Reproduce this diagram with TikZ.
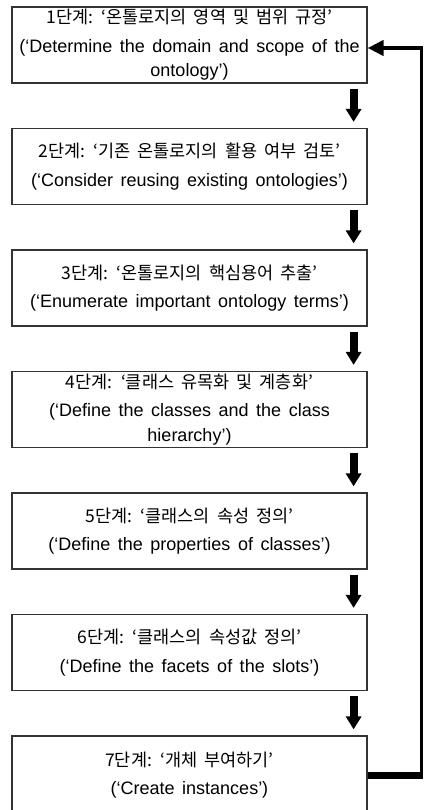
\documentclass[tikz,border=0pt]{standalone}
\usepackage{fontspec}
\setmainfont{Liberation Sans}[WordSpace=1.5]
\newfontfamily\kr{Noto Sans CJK KR}[WordSpace=1.8]
\usetikzlibrary{positioning}
\usetikzlibrary{arrows.meta}

\begin{document}
\begin{tikzpicture}[x=1pt, y=-1pt,
stagenode/.style={rectangle, draw=black!80, line width=1.2pt, minimum width=355pt, minimum height=76pt, align=center, inner sep=1pt, font=\fontsize{18}{24.5}\selectfont},
downarrow/.style={line width=8pt, -{Triangle[width=15pt,length=13pt]}, shorten <=5pt, shorten >=6pt},
node distance=44.3pt
]
\useasboundingbox (0,0) rectangle (424,810);
%Nodes
\node[stagenode]        (stage1)  at (189.5,45)        {{\kr\fontsize{17.5}{24.5}\selectfont 1단계: ‘온톨로지의 영역 및 범위 규정’}\\[4pt](‘Determine the domain and scope of the\\ontology’)};
\node[stagenode]        (stage2)  [below=of stage1]    {{\kr\fontsize{17.5}{24.5}\selectfont 2단계: ‘기존 온톨로지의 활용 여부 검토’}\\[4pt](‘Consider reusing existing ontologies’)};
\node[stagenode]        (stage3)  [below=of stage2]    {{\kr\fontsize{17.5}{24.5}\selectfont 3단계: ‘온톨로지의 핵심용어 추출’}\\[4pt](‘Enumerate important ontology terms’)};
\node[stagenode]        (stage4)  [below=of stage3]    {{\kr\fontsize{17.5}{24.5}\selectfont 4단계: ‘클래스 유목화 및 계층화’}\\[4pt](‘Define the classes and the class\\hierarchy’)};
\node[stagenode]        (stage5)  [below=of stage4]    {{\kr\fontsize{17.5}{24.5}\selectfont 5단계: ‘클래스의 속성 정의’}\\[4pt](‘Define the properties of classes’)};
\node[stagenode]        (stage6)  [below=of stage5]    {{\kr\fontsize{17.5}{24.5}\selectfont 6단계: ‘클래스의 속성값 정의’}\\[4pt](‘Define the facets of the slots’)};
\node[stagenode]        (stage7)  [below=of stage6, minimum height=78pt] {{\kr\fontsize{17.5}{24.5}\selectfont 7단계: ‘개체 부여하기’}\\[4pt](‘Create instances’)};
%Lines
\draw[downarrow] ([xshift=-14pt]stage1.south east) -- ([xshift=-14pt]stage2.north east);
\draw[downarrow] ([xshift=-14pt]stage2.south east) -- ([xshift=-14pt]stage3.north east);
\draw[downarrow] ([xshift=-14pt]stage3.south east) -- ([xshift=-14pt]stage4.north east);
\draw[downarrow] ([xshift=-14pt]stage4.south east) -- ([xshift=-14pt]stage5.north east);
\draw[downarrow] ([xshift=-14pt]stage5.south east) -- ([xshift=-14pt]stage6.north east);
\draw[downarrow] ([xshift=-14pt]stage6.south east) -- ([xshift=-14pt]stage7.north east);
%Loop back
\coordinate (looptop) at (421.5,48);
\coordinate (loopbot) at (stage7.east -| looptop);
\draw[line width=7pt] (stage7.east) -- ([xshift=1.4pt]loopbot);
\draw[line width=2.7pt] (loopbot) -- ([yshift=2pt]looptop);
\draw[line width=4pt, -{Triangle[width=15pt,length=16pt]}] ([xshift=1.4pt]looptop) -- (stage1.east |- looptop);

\end{tikzpicture}
\end{document}
